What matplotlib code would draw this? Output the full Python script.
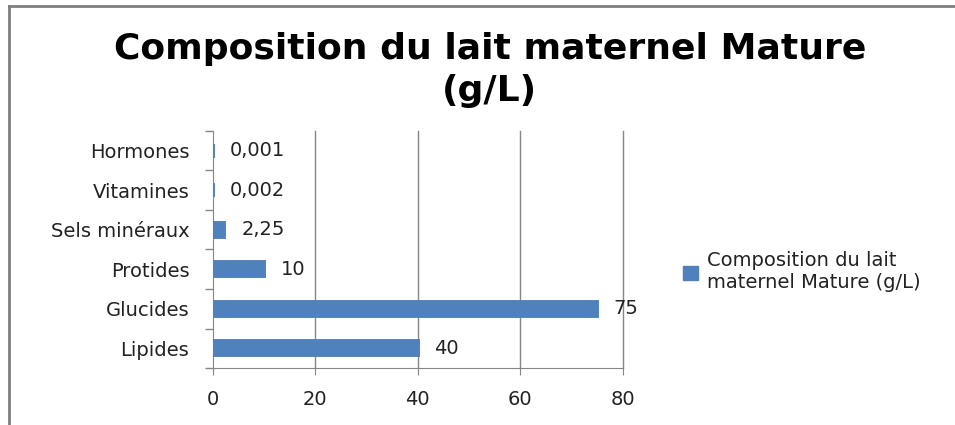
import numpy as np
import matplotlib.pyplot as plt
from matplotlib.lines import Line2D

categories = ["Lipides", "Glucides", "Protides", "Sels minéraux", "Vitamines", "Hormones"]
values = [40, 75, 10, 2.25, 0.002, 0.001]
labels = ["40", "75", "10", "2,25", "0,002", "0,001"]
series_name = "Composition du lait\nmaternel Mature (g/L)"
title = "Composition du lait maternel Mature\n(g/L)"

bar_color = "#4f81bd"
grid_color = "#868686"

fig = plt.figure(figsize=(9.55, 4.25), dpi=100)
ax = fig.add_axes([0.223, 0.134, 0.429, 0.558])

y = np.arange(len(categories))
ax.barh(y, values, height=0.35, color=bar_color, edgecolor=bar_color,
        linewidth=2.8, zorder=3)
for yi, v, lab in zip(y, values, labels):
    ax.annotate(lab, (v, yi), xytext=(12, 0), textcoords="offset points",
                va="center", ha="left", fontsize=14, color="#222222")

ax.set_xlim(0, 80)
ax.set_ylim(-0.5, len(categories) - 0.5)
ax.set_xticks([0, 20, 40, 60, 80])
ax.set_yticks(y)
ax.set_yticklabels(categories)
ax.set_yticks(np.arange(-0.5, len(categories), 1), minor=True)
ax.tick_params(axis="y", which="major", length=0, pad=17, labelsize=14, labelcolor="#222222")
ax.tick_params(axis="y", which="minor", length=6, color=grid_color, width=1)
ax.tick_params(axis="x", length=5, color=grid_color, pad=11, labelsize=14, labelcolor="#222222")
for xv in [20, 40, 60, 80]:
    ax.axvline(xv, color=grid_color, linewidth=1, zorder=0, clip_on=False)
for side in ["top", "right"]:
    ax.spines[side].set_visible(False)
for side in ["left", "bottom"]:
    ax.spines[side].set_color(grid_color)
    ax.spines[side].set_zorder(1)

fig.text(0.513, 0.925, title, ha="center", va="top", fontsize=26,
         fontweight="bold", linespacing=1.3, color="black")

handle = plt.Rectangle((0, 0), 1, 1, color=bar_color)
fig.legend([handle], [series_name], loc="center left", bbox_to_anchor=(0.697, 0.36),
           frameon=False, fontsize=14, handlelength=0.75, handleheight=0.75,
           handletextpad=0.5, labelcolor="#222222", labelspacing=0.3)

# outer chart border (left and top only visible)
fig.add_artist(Line2D([0.009, 0.009], [0.0, 0.985], color="#7f7f7f", lw=2,
                      transform=fig.transFigure))
fig.add_artist(Line2D([0.009, 1.0], [0.985, 0.985], color="#7f7f7f", lw=2,
                      transform=fig.transFigure))

fig.savefig("out.png", dpi=100)
